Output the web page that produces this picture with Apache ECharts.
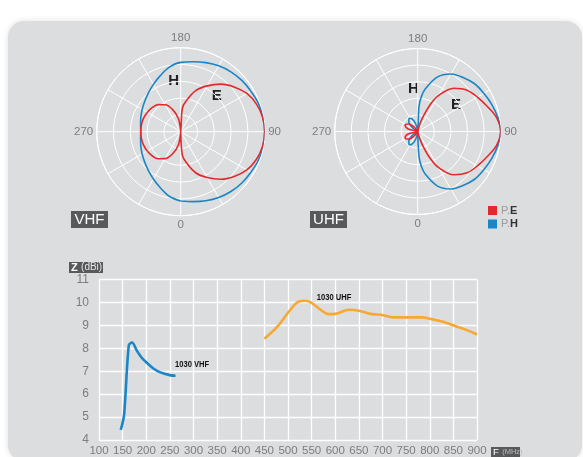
<!DOCTYPE html>
<html>
<head>
<meta charset="utf-8">
<script src="https://cdn.jsdelivr.net/npm/echarts@6/dist/echarts.min.js"></script>
<style>
html, body { margin: 0; padding: 0; background: #fff; }
#wrap { position: relative; width: 583px; height: 457px; overflow: hidden; }
/* 灰色圆角底板 */
#panel {
  position: absolute; left: 8px; top: 21px; width: 574px; height: 440px;
  background: #dcdddf; border-radius: 16px;
  box-shadow: 0 0 6px rgba(0, 0, 0, 0.12);
}
#chart { position: absolute; left: 0; top: 0; width: 583px; height: 457px; }
</style>
</head>
<body>
<div id="wrap"><div id="panel"></div><div id="chart"></div></div>
<script>
// ================================================================
// 方向图数据 (radius 0..1, angle in deg: 0 bottom, 90 right)
// ================================================================
const vhfHAngle = [0, 10, 20, 30, 40, 50, 60, 70, 80, 90, 100, 110, 120, 130, 140, 150, 160, 170, 180,
  190, 200, 210, 220, 230, 240, 250, 260, 270, 280, 290, 300, 310, 320, 330, 340, 350, 360]
const vhfHR = [0.825, 0.845, 0.875, 0.905, 0.93, 0.95, 0.965, 0.985, 0.995, 1.0, 0.995, 0.985, 0.965, 0.95, 0.93, 0.905, 0.875, 0.845, 0.825,
  0.78, 0.71, 0.65, 0.6, 0.56, 0.53, 0.505, 0.485, 0.476, 0.485, 0.505, 0.53, 0.56, 0.6, 0.65, 0.71, 0.78, 0.825]

// E: right lobe 0 -> 180, then left lobe 350 -> 180 (figure eight)
const vhfEAngle = [0, 4, 10, 20, 30, 40, 50, 60, 70, 80, 90, 100, 110, 120, 130, 140, 150, 160, 170, 176, 180,
  350, 340, 330, 320, 310, 300, 290, 280, 270, 260, 250, 240, 230, 220, 210, 200, 190, 180]
const vhfER = [0, 0.28, 0.37, 0.52, 0.63, 0.74, 0.83, 0.91, 0.96, 0.99, 1.0, 0.99, 0.96, 0.91, 0.83, 0.74, 0.63, 0.52, 0.37, 0.28, 0,
  0.16, 0.28, 0.37, 0.42, 0.445, 0.46, 0.47, 0.475, 0.476, 0.475, 0.47, 0.46, 0.445, 0.42, 0.37, 0.28, 0.16, 0]

const uhfHAngle = [0, 3, 6, 10, 20, 30, 40, 50, 60, 70, 80, 90, 100, 110, 120, 130, 140, 150, 160, 170, 174, 177, 180,
  345, 335, 327, 318, 305, 290, 250, 235, 222, 213, 205, 195, 180]
const uhfHR = [0, 0.3, 0.42, 0.52, 0.7, 0.8, 0.85, 0.895, 0.92, 0.95, 0.98, 1.0, 0.98, 0.95, 0.92, 0.895, 0.85, 0.8, 0.7, 0.52, 0.42, 0.3, 0,
  0.1, 0.17, 0.19, 0.16, 0.07, 0, 0, 0.07, 0.16, 0.19, 0.17, 0.1, 0]

const uhfEAngle = [10, 15, 20, 25, 30, 40, 50, 60, 70, 80, 90, 100, 110, 120, 130, 140, 150, 155, 160, 165, 170,
  335, 320, 310, 297, 285, 272, 268, 255, 243, 230, 220, 205]
const uhfER = [0, 0.07, 0.19, 0.36, 0.5, 0.68, 0.775, 0.83, 0.89, 0.965, 1.0, 0.965, 0.89, 0.83, 0.775, 0.68, 0.5, 0.36, 0.19, 0.07, 0,
  0, 0.08, 0.14, 0.17, 0.12, 0, 0, 0.12, 0.17, 0.14, 0.08, 0]

// ================================================================
// 增益曲线 (F MHz / Z dBi)
// ================================================================
const vhfFreq = [146, 153, 163, 170, 180, 190, 200, 215, 230, 250, 262]
const vhfGain = [4.44, 5.09, 8.13, 8.25, 7.9, 7.6, 7.39, 7.12, 6.95, 6.83, 6.8]

const uhfFreq = [450, 477, 505, 523, 535, 548, 569, 586, 600, 629, 650, 678, 696, 724, 760, 781, 809, 830, 851, 880, 900]
const uhfGain = [8.42, 8.93, 9.68, 10.04, 10.07, 10.0, 9.68, 9.49, 9.5, 9.68, 9.64, 9.49, 9.46, 9.35, 9.35, 9.35, 9.25, 9.15, 8.99, 8.78, 8.6]

const freqAxis = { min: 100, max: 900, step: 50 }
const gainAxis = { min: 4, max: 11, step: 1 }
const angleLabels = [0, 90, 180, 270]

const RED = '#e5282c'
const BLUE = '#1a85c7'
const ORANGE = '#f7a833'
const DARK = '#58595b'
const LABEL = '#7d7d7d'
const FONT = '"Liberation Sans", Arial, sans-serif'
const NARROW = '"Liberation Sans Narrow", "Liberation Sans", sans-serif'

const zip = (r, a) => r.map((v, i) => [v, a[i]])
const zipXY = (x, y) => x.map((v, i) => [v, y[i]])

function angleAxis(idx) {
  return {
    polarIndex: idx,
    type: 'value',
    min: 0,
    max: 360,
    interval: 30,
    startAngle: 270,
    clockwise: false,
    axisLine: { lineStyle: { color: '#fff', width: 1 } },
    axisTick: { show: false },
    axisLabel: {
      color: LABEL,
      fontSize: 11.5,
      fontFamily: FONT,
      margin: 3.5,
      formatter: (v) => (angleLabels.includes(v) ? String(v) : ''),
    },
    splitLine: { lineStyle: { color: '#fff', width: 1 } },
  }
}

function radiusAxis(idx) {
  return {
    polarIndex: idx,
    type: 'value',
    min: 0,
    max: 1,
    interval: 0.2,
    axisLine: { show: false },
    axisTick: { show: false },
    axisLabel: { show: false },
    splitLine: { lineStyle: { color: '#fff', width: 1 } },
  }
}

function polarLine(idx, data, color) {
  return {
    type: 'line',
    coordinateSystem: 'polar',
    polarIndex: idx,
    data,
    smooth: 0.35,
    smoothConstraint: false,
    showSymbol: false,
    clip: false,
    silent: true,
    lineStyle: { color, width: 1.6 },
  }
}

// 文本元素：x/y 放在元素上，便于 scaleX 压缩字宽
function txt(x, y, text, extra, props) {
  return Object.assign({
    type: 'text',
    silent: true,
    x, y,
    style: Object.assign({
      x: 0, y: 0, text,
      fill: '#222',
      fontFamily: FONT,
      textAlign: 'center', textVerticalAlign: 'middle',
      align: 'center', verticalAlign: 'middle',
    }, extra),
  }, props)
}

function box(x, y, w, h, fill) {
  return { type: 'rect', silent: true, shape: { x, y, width: w, height: h }, style: { fill } }
}

const legendRich = {
  a: { fill: '#9a9a9a', fontSize: 11, fontFamily: FONT },
  b: { fill: '#333', fontSize: 11, fontWeight: 'bold', fontFamily: FONT },
}

const chart = echarts.init(document.getElementById('chart'))

chart.setOption({
  animation: false,
  backgroundColor: 'transparent',
  polar: [
    { center: [180.7, 131.7], radius: 84 },
    { center: [417.7, 131.5], radius: 83 },
  ],
  angleAxis: [angleAxis(0), angleAxis(1)],
  radiusAxis: [radiusAxis(0), radiusAxis(1)],
  grid: { left: 99, right: 106, top: 279.5, bottom: 15 },
  xAxis: {
    type: 'value',
    min: freqAxis.min,
    max: freqAxis.max,
    interval: freqAxis.step,
    axisLine: { show: false },
    axisTick: { show: false },
    axisLabel: { color: LABEL, fontSize: 11.5, fontFamily: FONT, margin: 5 },
    splitLine: { lineStyle: { color: '#fff', width: 1.3 } },
  },
  yAxis: {
    type: 'value',
    min: gainAxis.min,
    max: gainAxis.max,
    interval: gainAxis.step,
    axisLine: { show: false },
    axisTick: { show: false },
    axisLabel: { color: LABEL, fontSize: 12, fontFamily: FONT, margin: 10 },
    splitLine: { lineStyle: { color: '#fff', width: 1.3 } },
  },
  series: [
    polarLine(0, zip(vhfHR, vhfHAngle), BLUE),
    polarLine(0, zip(vhfER, vhfEAngle), RED),
    polarLine(1, zip(uhfHR, uhfHAngle), BLUE),
    polarLine(1, zip(uhfER, uhfEAngle), RED),
    {
      name: '1030 VHF',
      type: 'line',
      data: zipXY(vhfFreq, vhfGain),
      smooth: 0.3,
      showSymbol: false,
      silent: true,
      lineStyle: { color: BLUE, width: 2.6 },
    },
    {
      name: '1030 UHF',
      type: 'line',
      data: zipXY(uhfFreq, uhfGain),
      smooth: 0.4,
      showSymbol: false,
      silent: true,
      lineStyle: { color: ORANGE, width: 2.6 },
    },
  ],
  graphic: [
    // 方向图标注
    txt(173.7, 80.5, 'H', { fontSize: 15, fontWeight: 'bold' }),
    txt(216.7, 95.5, 'E', { fontSize: 15, fontWeight: 'bold' }),
    txt(413.3, 89, 'H', { fontSize: 15, fontWeight: 'bold' }),
    txt(456, 104.5, 'E', { fontSize: 15, fontWeight: 'bold' }),
    // VHF / UHF 标签
    box(71, 211, 37, 17, DARK),
    txt(89.5, 220, 'VHF', { fill: '#fff', fontSize: 15 }),
    box(310, 211, 37, 17, DARK),
    txt(328.5, 220, 'UHF', { fill: '#fff', fontSize: 15 }),
    // 图例
    box(488, 206, 9, 9, RED),
    box(488, 219.5, 9, 9, BLUE),
    txt(501, 210.5, '{a|P.}{b|E}', { align: 'left', textAlign: 'left', rich: legendRich }),
    txt(501, 224, '{a|P.}{b|H}', { align: 'left', textAlign: 'left', rich: legendRich }),
    // 轴名
    box(69, 262, 34, 11, DARK),
    txt(71, 267.5, '{a|Z} {b|(dBi)}', {
      align: 'left', textAlign: 'left',
      rich: { a: { fill: '#fff', fontSize: 11, fontWeight: 'bold', fontFamily: FONT }, b: { fill: '#e6e6e6', fontSize: 10, fontFamily: FONT } },
    }),
    box(491, 447, 29, 10, DARK),
    txt(493, 452, '{a|F} {b|(MHz)}', {
      align: 'left', textAlign: 'left',
      rich: { a: { fill: '#fff', fontSize: 9.5, fontFamily: FONT }, b: { fill: '#bdbdbd', fontSize: 7.5, fontFamily: FONT } },
    }),
    // 曲线标注
    txt(175, 364.5, '1030 VHF', {
      align: 'left', textAlign: 'left', fontSize: 9.5, fontWeight: 'bold', fontFamily: NARROW, fill: '#111',
    }, { scaleX: 0.8 }),
    txt(316.7, 297, '1030 UHF', {
      align: 'left', textAlign: 'left', fontSize: 9.5, fontWeight: 'bold', fontFamily: NARROW, fill: '#111',
    }, { scaleX: 0.8 }),
  ],
})
</script>
</body>
</html>
